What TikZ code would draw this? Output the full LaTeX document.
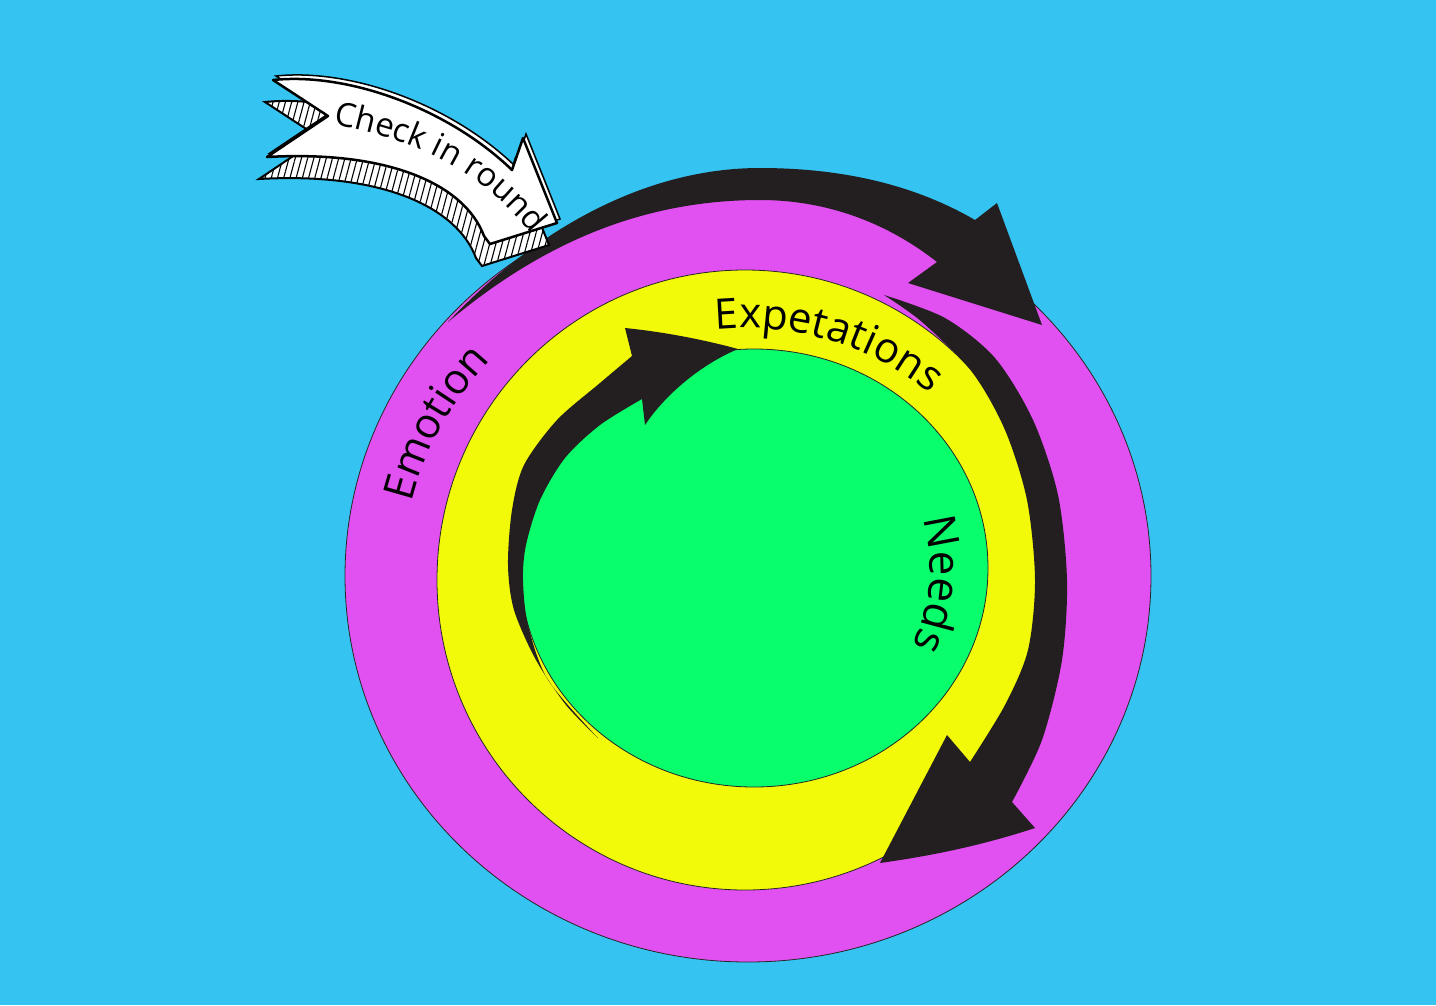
\documentclass[tikz,border=0pt]{standalone}
\usepackage{fontspec}
\newfontfamily\labfont{Open Sans}
\usetikzlibrary{decorations.text,patterns.meta}
\definecolor{bgblue}{RGB}{53,196,242}
\definecolor{mag}{RGB}{225,80,240}
\definecolor{yel}{RGB}{242,250,10}
\definecolor{grn}{RGB}{8,254,106}
\definecolor{blk}{RGB}{35,31,32}
\tikzset{
  ring/.style={draw=black!85,line width=0.8pt},
  curvearrow/.style={fill=blk},
  lab/.style={decorate,decoration={text along path,text align=center,text={#1}}}
}
\def\chkpath{(273,80) .. controls (350,72) and (450,110) .. (512,170) -- (523,138) -- (557,223) -- (490,244) -- (484,236) .. controls (465,185) and (390,150) .. (267,157) -- (328,116) -- cycle}
\begin{document}
\begin{tikzpicture}[x=1pt,y=-1pt]
\fill[bgblue] (0,0) rectangle (1436,1005);
\useasboundingbox (0,0) rectangle (1436,1005);
% rings
\path[ring,fill=mag] (748,576) ellipse[x radius=403,y radius=386];
% outer top arrow
\path[curvearrow] (448,322) .. controls (530,235) and (640,168) .. (760,168)
  .. controls (850,168) and (920,188) .. (975,220) -- (997,203) -- (1042,325)
  -- (908,283) -- (937,262) .. controls (890,225) and (830,200) .. (760,200)
  .. controls (620,200) and (520,262) .. (448,322) -- cycle;
\path[ring,fill=yel] (745,580) ellipse[x radius=308,y radius=310];
% right arrow
\path[curvearrow] plot[smooth] coordinates {(884,295) (945,318) (995,358) (1033,420) (1058,495) (1067,580) (1062,660) (1042,740) (1012,802)}
  -- (1035,828) .. controls (980,846) and (930,856) .. (880,863)
  -- (947,735) -- (970,762)
  -- plot[smooth] coordinates {(970,762) (1005,705) (1028,650) (1035,580) (1027,500) (1005,430) (972,372) (922,322) (884,295)} -- cycle;
\path[ring,fill=grn] (754,568) ellipse[x radius=234,y radius=219];
% inner arrow
\path[curvearrow] plot[smooth] coordinates {(598,738) (566,705) (536,660) (514,610) (508,565) (512,510) (524,465) (557,420) (600,383) (632,356)}
  -- (625,328) .. controls (665,332) and (705,340) .. (738,349)
  .. controls (700,365) and (665,395) .. (645,425) -- (642,399)
  -- plot[smooth] coordinates {(642,399) (600,425) (565,458) (540,500) (526,545) (523,580) (528,625) (548,680) (598,738)} -- cycle;
% labels
\path[lab={|\labfont\fontsize{42}{42}\selectfont|Emotion}]
  ([shift={(748,576)}]172:345 and 325) arc[start angle=172,end angle=242,x radius=345,y radius=325];
\path[lab={|\labfont\fontsize{42}{42}\selectfont|Expetations}]
  ([shift={(745,585)}]-124:277 and 257) arc[start angle=-124,end angle=-19,x radius=277,y radius=257];
\path[lab={|\labfont\fontsize{44}{44}\selectfont|Needs}]
  ([shift={(754,568)}]-40:176) arc[start angle=-40,end angle=50,radius=176];
% check in round arrow
\begin{scope}[shift={(-8,22)}]
  \fill[white] \chkpath;
  \draw[line width=2pt,pattern={Lines[angle=75,distance=6pt,line width=1.1pt]}] \chkpath;
\end{scope}
\begin{scope}[shift={(3,-4)}]
  \draw[fill=white,line width=1.5pt] \chkpath;
\end{scope}
\draw[fill=white,line width=2.5pt,line join=round] \chkpath;
\path[lab={|\labfont\fontsize{33}{33}\selectfont|Check in round}]
  (331,124) .. controls (410,138) and (480,168) .. (533,236);
\end{tikzpicture}
\end{document}
